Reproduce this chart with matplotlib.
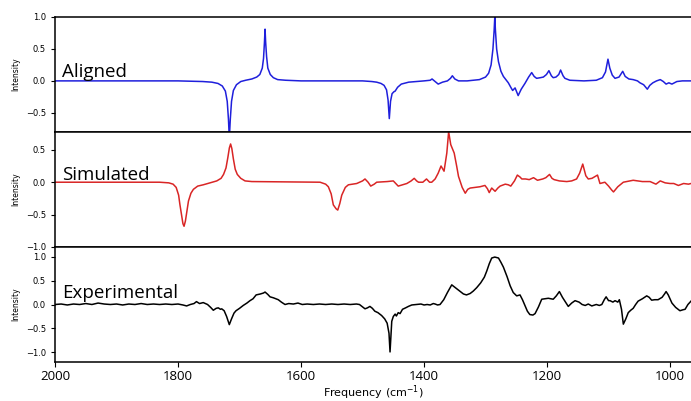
import matplotlib
matplotlib.use("Agg")
import matplotlib.pyplot as plt

# spectra (frequency in cm^-1, normalised intensity)
freq_aligned = [2000, 1800, 1760, 1745, 1735, 1728, 1723, 1720, 1718, 1716.6, 1715, 1713, 1710, 1705,
                1698, 1690, 1680, 1672, 1667, 1663, 1661, 1659.5, 1658.5, 1657.5, 1656, 1654, 1650, 1645,
                1638, 1625, 1600, 1500, 1485, 1477, 1470, 1465, 1461, 1458.5, 1456.5, 1454.5, 1452, 1449,
                1447, 1443, 1437, 1425, 1400, 1390, 1387, 1382, 1377, 1370, 1362, 1357, 1354, 1350, 1344,
                1330, 1310, 1300, 1295, 1291, 1288, 1286, 1285, 1284, 1282, 1279, 1275, 1271, 1267, 1263,
                1259, 1256, 1252, 1247, 1242, 1236, 1230, 1225, 1221, 1217, 1211, 1206, 1201, 1197, 1193,
                1190, 1185.5, 1181, 1178, 1174, 1171, 1163, 1140, 1120, 1110, 1105, 1101, 1098, 1094,
                1089.5, 1083, 1077, 1073, 1067, 1060, 1053, 1049, 1043, 1037, 1033, 1028, 1022, 1016,
                1011, 1006.5, 1002, 997, 993, 989, 980, 966]
int_aligned = [0, 0, -0.01, -0.02, -0.04, -0.08, -0.16, -0.32, -0.6, -0.9, -0.6, -0.32, -0.15, -0.06,
               -0.01, 0.01, 0.03, 0.06, 0.1, 0.2, 0.35, 0.6, 0.81, 0.6, 0.38, 0.2, 0.1, 0.05,
               0.02, 0.01, 0, 0, -0.01, -0.02, -0.04, -0.07, -0.14, -0.3, -0.59, -0.32, -0.2, -0.17,
               -0.16, -0.1, -0.05, -0.02, 0.0, 0.01, 0.03, -0.01, -0.05, -0.02, 0.0, 0.04, 0.08, 0.03, 0.0,
               0.0, 0.02, 0.06, 0.12, 0.25, 0.5, 0.8, 1.0, 0.8, 0.5, 0.3, 0.15, 0.07, 0.02, -0.03,
               -0.1, -0.15, -0.11, -0.23, -0.13, -0.04, 0.06, 0.13, 0.07, 0.04, 0.05, 0.06, 0.1, 0.16, 0.08,
               0.05, 0.06, 0.1, 0.17, 0.08, 0.04, 0.01, 0.0, 0.01, 0.05, 0.14, 0.34, 0.2, 0.09,
               0.04, 0.06, 0.15, 0.07, 0.03, 0.02, 0.0, -0.03, -0.06, -0.13, -0.07, -0.03, 0.0, 0.02,
               -0.01, -0.05, -0.03, -0.05, -0.03, -0.01, 0.0, 0.0]

freq_sim = [2000, 1830, 1815, 1808, 1803, 1799, 1797, 1794, 1792, 1790.2, 1788, 1785, 1783, 1779, 1775,
            1768, 1759, 1748, 1737, 1730, 1726, 1722, 1719, 1716.5, 1714.5, 1712.5, 1710, 1707, 1703.6,
            1698, 1691, 1680, 1585, 1569, 1560, 1555.6, 1551, 1547.5, 1543, 1540.3, 1537, 1533.8, 1528,
            1523, 1509.5, 1500, 1496, 1491, 1486.7, 1481, 1477, 1460, 1450, 1446, 1442, 1435, 1428, 1421,
            1416, 1412, 1409, 1402, 1396, 1391, 1387.5, 1382, 1377, 1372.4, 1367.5, 1363, 1360, 1356.6,
            1351, 1347, 1344, 1338, 1333, 1329, 1325, 1317, 1309, 1301, 1297, 1294, 1290, 1284.5, 1280,
            1276.4, 1268, 1263, 1259, 1253, 1248.3, 1244, 1241, 1235, 1229, 1222, 1215.6, 1211, 1207,
            1202, 1196, 1192, 1188.6, 1180, 1168, 1160, 1152, 1147, 1142, 1137, 1133, 1127, 1118, 1114,
            1106, 1100, 1095, 1092, 1085, 1076, 1060, 1045, 1032.5, 1023, 1016, 1008, 1000, 994, 986.5,
            978, 970, 966]
int_sim = [0, 0, -0.01, -0.03, -0.08, -0.2, -0.34, -0.52, -0.64, -0.68, -0.6, -0.42, -0.29, -0.17, -0.11,
           -0.06, -0.04, -0.01, 0.02, 0.06, 0.12, 0.22, 0.38, 0.53, 0.59, 0.52, 0.36, 0.2, 0.12,
           0.06, 0.02, 0.01, 0, 0, -0.03, -0.07, -0.18, -0.35, -0.41, -0.43, -0.33, -0.2, -0.08,
           -0.04, -0.02, 0.02, 0.05, 0.0, -0.06, -0.03, 0, 0.01, 0.02, -0.02, -0.06, -0.04, -0.02, 0.02,
           0.06, 0.02, 0.0, 0.0, 0.05, 0.0, 0.0, 0.05, 0.14, 0.25, 0.17, 0.45, 0.78, 0.58,
           0.45, 0.25, 0.09, -0.08, -0.17, -0.11, -0.09, -0.08, -0.07, -0.05, -0.1, -0.16, -0.09, -0.14, -0.09,
           -0.06, -0.03, -0.04, -0.06, 0.02, 0.11, 0.08, 0.05, 0.05, 0.04, 0.07, 0.03, 0.04, 0.05,
           0.07, 0.12, 0.06, 0.04, 0.02, 0.01, 0.02, 0.05, 0.14, 0.28, 0.1, 0.05, 0.06, 0.11, -0.02,
           0.0, -0.06, -0.12, -0.15, -0.07, 0.0, 0.03, 0.01, 0.01, -0.03, 0.02, -0.01, -0.02, -0.02, -0.05,
           -0.02, -0.03, -0.02]

freq_exp = [2000, 1990, 1980, 1970, 1960, 1950, 1940, 1930, 1920, 1910, 1900, 1890, 1880, 1870, 1860,
            1850, 1840, 1830, 1820, 1810, 1800, 1792, 1786, 1780, 1774, 1770, 1765, 1759, 1752, 1747,
            1742.6, 1738, 1734.5, 1731, 1729, 1725, 1721, 1718, 1716.6, 1713, 1709, 1705.7, 1700, 1694,
            1688, 1683, 1678, 1673, 1666, 1661, 1658.5, 1654, 1650.4, 1645, 1641, 1637, 1632, 1626, 1620,
            1612.5, 1605, 1598, 1590, 1580, 1570, 1560, 1550, 1540, 1530, 1520, 1510, 1505, 1500, 1496,
            1492, 1488, 1484, 1480, 1475, 1469, 1464, 1460, 1457, 1455.3, 1453.5, 1452.5, 1450, 1447,
            1445, 1442, 1439, 1435, 1430, 1425.5, 1420, 1412, 1405, 1400, 1395, 1390, 1385, 1382, 1378,
            1374, 1368, 1362, 1355, 1349, 1342, 1336, 1331, 1325, 1320, 1314.5, 1308, 1302, 1298, 1294,
            1290, 1285, 1279, 1275, 1271, 1265, 1260, 1255, 1249.4, 1244, 1240, 1236, 1232, 1228, 1223,
            1219.5, 1214, 1208.7, 1203, 1198, 1194, 1190, 1185, 1180, 1175, 1171, 1165.5, 1160, 1154.5,
            1148, 1143, 1138, 1133, 1127.3, 1120, 1115, 1111, 1107, 1104, 1100, 1097.6, 1093, 1089.5,
            1085, 1082.5, 1079, 1076, 1072, 1068, 1064, 1060, 1056, 1052, 1045, 1038, 1034, 1030, 1025,
            1019.5, 1013, 1009, 1006.5, 1003, 997, 991, 984, 979, 975.6, 971, 966]
int_exp = [0.0, 0.01, -0.01, 0.01, 0.0, 0.02, 0.0, 0.03, 0.01, 0.0, 0.01, -0.01, 0.01, 0.0, 0.02,
           0.0, 0.01, 0.0, 0.01, 0.0, 0.01, -0.01, -0.03, 0.0, 0.02, 0.06, 0.02, 0.04, 0.0, -0.06,
           -0.12, -0.08, -0.07, -0.1, -0.09, -0.13, -0.25, -0.37, -0.42, -0.3, -0.18, -0.13, -0.08, -0.02,
           0.03, 0.08, 0.12, 0.2, 0.22, 0.24, 0.26, 0.21, 0.16, 0.14, 0.12, 0.1, 0.05, 0.0, 0.02,
           0.01, 0.03, 0.0, 0.01, 0.0, 0.01, 0.0, 0.01, 0.0, 0.01, 0.0, 0.01, 0.0, -0.05, -0.09,
           -0.07, -0.04, -0.08, -0.14, -0.17, -0.23, -0.3, -0.39, -0.6, -0.99, -0.6, -0.35, -0.25, -0.2,
           -0.24, -0.17, -0.19, -0.1, -0.07, -0.04, -0.01, 0.0, 0.01, -0.01, 0.0, -0.01, 0.02, 0.01, -0.01,
           0.0, 0.1, 0.25, 0.41, 0.35, 0.28, 0.22, 0.2, 0.23, 0.28, 0.35, 0.45, 0.57, 0.7, 0.85,
           0.97, 0.99, 0.97, 0.88, 0.78, 0.58, 0.39, 0.25, 0.18, 0.2, 0.1, -0.02, -0.14, -0.21, -0.22,
           -0.19, -0.05, 0.11, 0.12, 0.13, 0.12, 0.11, 0.18, 0.27, 0.15, 0.07, -0.04, 0.03, 0.08,
           0.05, 0.0, -0.02, 0.01, -0.03, 0.0, -0.02, 0.0, 0.1, 0.16, 0.08, 0.08, 0.05, 0.08,
           0.05, 0.1, -0.1, -0.41, -0.3, -0.17, -0.12, -0.08, 0.0, 0.07, 0.12, 0.18, 0.15, 0.09, 0.1,
           0.1, 0.15, 0.22, 0.27, 0.2, 0.03, -0.06, -0.13, -0.11, -0.1, 0.0, 0.07]

panels = [
    ("Aligned", freq_aligned, int_aligned, "#1f1fdc", (-0.8, 1.0), [1.0, 0.5, 0.0, -0.5], 0.06),
    ("Simulated", freq_sim, int_sim, "#d92525", (-1.0, 0.775), [0.5, 0.0, -0.5, -1.0], 0.035),
    ("Experimental", freq_exp, int_exp, "black", (-1.2, 1.2), [1.0, 0.5, 0.0, -0.5, -1.0], 0.14),
]

fig = plt.figure(figsize=(6.91, 4.01), dpi=100)
left, width, h = 55 / 691, 1 - 55 / 691, 115 / 401
bottoms = [1 - 132 / 401, 1 - 247 / 401, 1 - 362 / 401]

axes = []
for (name, fx, fy, color, ylim, yt, ty), b in zip(panels, bottoms):
    ax = fig.add_axes([left, b, width, h])
    ax.plot(fx, fy, color=color, lw=1.1)
    ax.set_xlim(2000, 966)
    ax.set_ylim(*ylim)
    ax.set_yticks(yt)
    ax.tick_params(axis="y", labelsize=6, length=3, width=0.8)
    ax.tick_params(axis="x", length=3.5, width=0.8, pad=2.5)
    ax.set_ylabel("Intensity", fontsize=5.5, labelpad=4)
    ax.text(1988.5, ty, name, fontsize=13.5, family="Open Sans", va="baseline")
    ax.spines["right"].set_visible(False)
    for s in ["top", "bottom", "left"]:
        ax.spines[s].set_linewidth(1.1)
    axes.append(ax)

for ax in axes[:-1]:
    ax.tick_params(axis="x", labelbottom=False)

bottom_ax = axes[-1]
bottom_ax.set_xticks([2000, 1800, 1600, 1400, 1200, 1000])
for lab in bottom_ax.get_xticklabels():
    lab.set_family("Open Sans")
    lab.set_fontsize(9.5)
bottom_ax.set_xlabel("Frequency (cm$^{-1}$)", fontsize=8, labelpad=0)

fig.savefig("out.png", dpi=100)
